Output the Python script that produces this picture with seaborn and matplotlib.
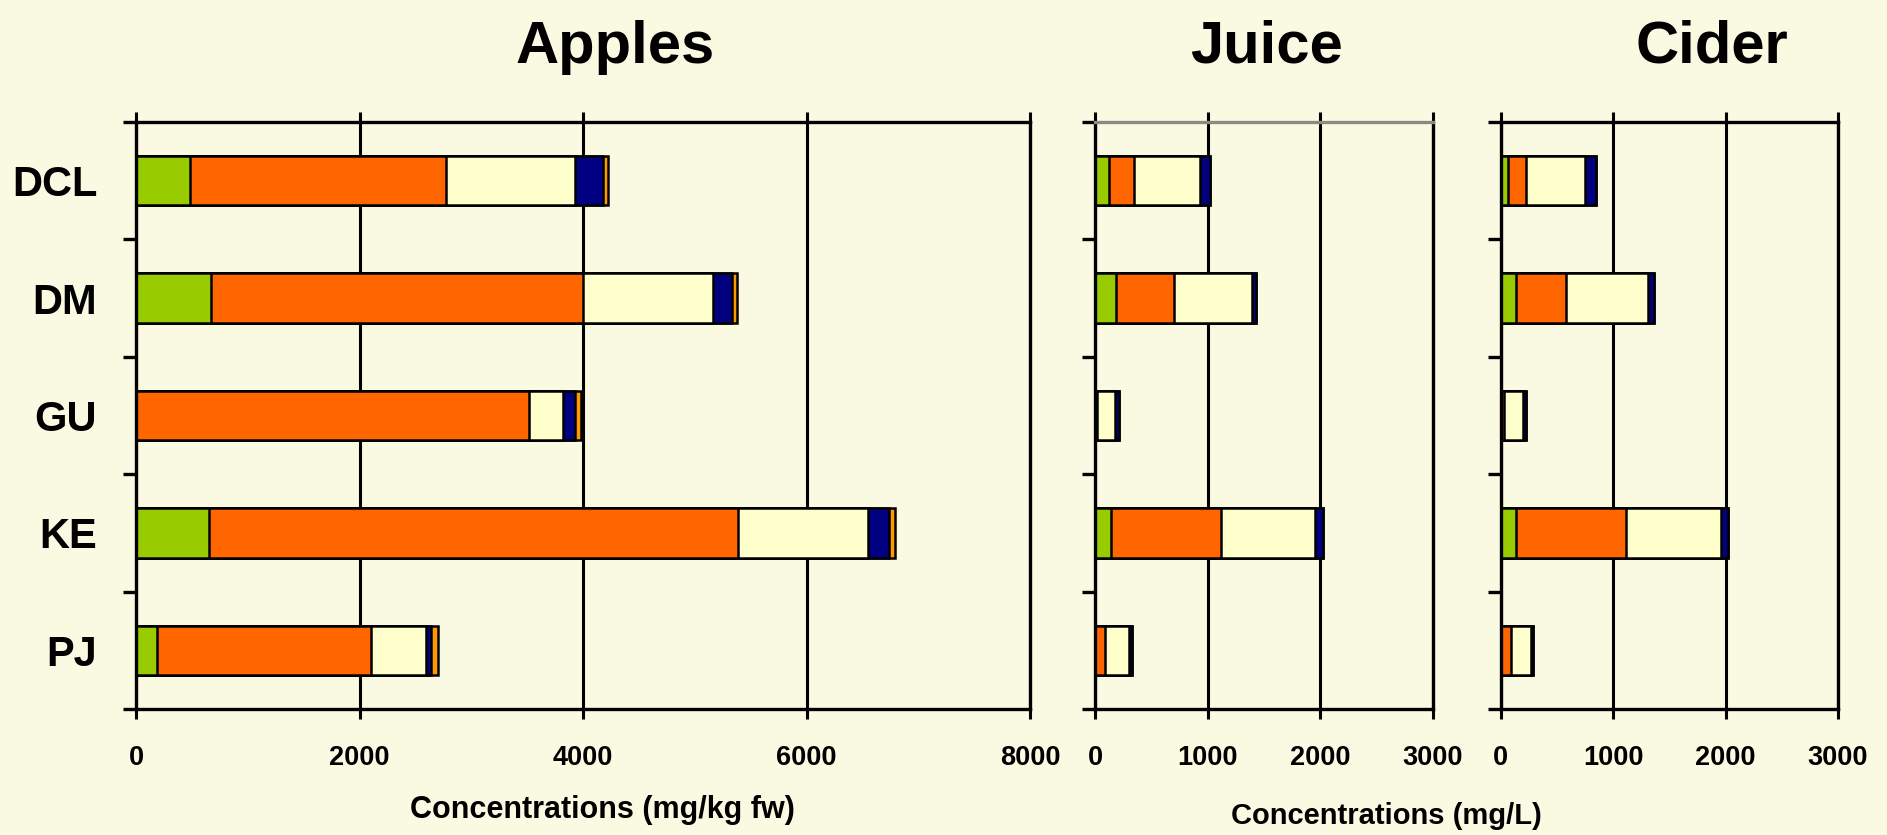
import numpy as np
import matplotlib
matplotlib.use("Agg")
import matplotlib.pyplot as plt
import seaborn as sns

varieties = ["DCL", "DM", "GU", "KE", "PJ"]
components = ["Catechins", "Procyanidins", "Hydroxycinnamic acids", "Dihydrochalcones", "Flavonols"]
colors = ["#99CC00", "#FF6600", "#FFFFCC", "#000080", "#FF9900"]

# apples (mg/kg fw)
apples_cat = [480, 670, 0, 650, 190]
apples_pro = [2290, 3330, 3520, 4740, 1910]
apples_hca = [1160, 1160, 300, 1160, 490]
apples_dhc = [245, 170, 110, 190, 50]
apples_flv = [50, 50, 55, 55, 60]

# juice (mg/L)
juice_cat = [120, 185, 0, 140, 0]
juice_pro = [225, 515, 15, 975, 90]
juice_hca = [585, 695, 165, 835, 210]
juice_dhc = [95, 30, 30, 75, 25]
juice_flv = [0, 0, 0, 0, 0]

# cider (mg/L)
cider_cat = [60, 130, 0, 135, 0]
cider_pro = [160, 450, 25, 975, 90]
cider_hca = [530, 725, 170, 845, 175]
cider_dhc = [95, 55, 25, 70, 25]
cider_flv = [0, 0, 0, 0, 0]

bg = "#FAFAE3"
sns.set_style("white")
plt.rcParams["font.family"] = ["Liberation Sans", "DejaVu Sans"]
plt.rcParams["font.weight"] = "bold"
plt.rcParams["text.color"] = "black"
plt.rcParams["xtick.color"] = "black"
plt.rcParams["ytick.color"] = "black"
plt.rcParams["xtick.labelcolor"] = "black"
plt.rcParams["ytick.labelcolor"] = "black"

fig = plt.figure(figsize=(18.87, 8.35), dpi=100, facecolor=bg)


def stacked(ax, parts, xmax, step, show_labels):
    cum = np.cumsum(np.array(parts, dtype=float), axis=0)
    # draw longest first so the shorter segments sit on top
    for i in range(len(parts) - 1, -1, -1):
        sns.barplot(x=cum[i], y=varieties, order=varieties, orient="h",
                    color=colors[i], edgecolor="black", linewidth=1.8,
                    width=0.42, saturation=1, ax=ax)
    ax.set_facecolor(bg)
    ax.set_xlim(0, xmax)
    ax.set_ylim(4.5, -0.5)
    ax.set_xticks(np.arange(0, xmax + 1, step))
    ax.grid(axis="x", color="black", linewidth=2.2)
    ax.set_axisbelow(True)
    ax.set_xlabel("")
    ax.set_ylabel("")
    for s in ax.spines.values():
        s.set_visible(True)
        s.set_color("black")
        s.set_linewidth(2.4)
    ax.tick_params(axis="x", which="major", top=True, bottom=True, direction="out",
                   length=7, width=2.2, labelsize=19.5, pad=19, colors="black")
    ax.set_yticks(np.arange(-0.5, 5, 1), minor=True)
    ax.tick_params(axis="y", which="minor", left=True, length=9.5, width=2.4,
                   direction="out", colors="black")
    ax.tick_params(axis="y", which="major", length=0, labelsize=30, pad=28, colors="black")
    if not show_labels:
        ax.set_yticklabels([])
    for lab in ax.get_xticklabels() + ax.get_yticklabels():
        lab.set_fontweight("bold")


ax1 = fig.add_axes([0.0721, 0.1509, 0.4738, 0.703])
ax2 = fig.add_axes([0.5803, 0.1509, 0.1791, 0.703])
ax3 = fig.add_axes([0.7954, 0.1509, 0.1786, 0.703])

stacked(ax1, [apples_cat, apples_pro, apples_hca, apples_dhc, apples_flv], 8000, 2000, True)
stacked(ax2, [juice_cat, juice_pro, juice_hca, juice_dhc, juice_flv], 3000, 1000, False)
stacked(ax3, [cider_cat, cider_pro, cider_hca, cider_dhc, cider_flv], 3000, 1000, False)
ax2.spines["top"].set_color("#8a8a80")

title_kw = dict(fontsize=43, fontweight="bold", ha="center", va="baseline", color="black")
fig.text(0.326, 0.925, "Apples", **title_kw)
fig.text(0.671, 0.925, "Juice", **title_kw)
fig.text(0.907, 0.925, "Cider", **title_kw)

fig.text(0.3195, 1 - 810 / 835, "Concentrations (mg/kg fw)", fontsize=22,
         fontweight="bold", ha="center", va="center", color="black")
fig.text(0.7345, 1 - 816 / 835, "Concentrations (mg/L)", fontsize=21,
         fontweight="bold", ha="center", va="center", color="black")

fig.savefig("out.png", dpi=100, facecolor=bg)
